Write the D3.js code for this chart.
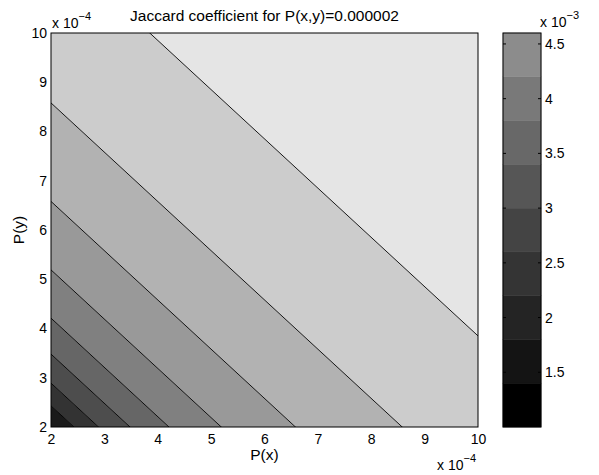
<!DOCTYPE html>
<html>
<head>
<meta charset="utf-8">
<script src="https://cdn.jsdelivr.net/npm/d3@7"></script>
<style>
  html, body { margin: 0; padding: 0; background: #fff; }
  svg text { font-family: "Liberation Sans", Arial, Helvetica, sans-serif; fill: #000; }
</style>
</head>
<body>
<svg id="chart" width="599" height="475"></svg>
<script>
// Axis range for P(x) and P(y), in units of 1e-4
const axisRange = [2, 10];
const xTicks = [2, 3, 4, 5, 6, 7, 8, 9, 10];
const yTicks = [2, 3, 4, 5, 6, 7, 8, 9, 10];
const axisExponent = "-4";

// Contour lines of the Jaccard coefficient: each one is a line of constant
// P(x)+P(y) (units of 1e-4), listed from the lower-left corner outward
const contourSums = [4.43, 4.89, 5.48, 6.21, 7.19, 8.58, 10.58, 13.85];

// Grey fill for each band between contours (lower-left corner band first)
const bandGreys = [26, 51, 77, 102, 128, 153, 178, 204, 229];

// Colour bar: band edges (units of 1e-3), greys, tick labels
const barEdges = [1.0, 1.4, 1.8, 2.2, 2.6, 3.0, 3.4, 3.8, 4.2, 4.6];
const barGreys = [0, 20, 36, 52, 68, 86, 104, 121, 140];
const barTicks = [1.5, 2, 2.5, 3, 3.5, 4, 4.5];
const barExponent = "-3";

const titleText = "Jaccard coefficient for P(x,y)=0.000002";
const xLabel = "P(x)";
const yLabel = "P(y)";

const svg = d3.select("#chart");
const plot = { left: 51, right: 478, top: 33, bottom: 427 };
const bar = { left: 503, right: 541, top: 33, bottom: 427 };
const tickFont = 14;
const supFont = 11;
const labelFont = 15.5;

const x = d3.scaleLinear().domain(axisRange).range([plot.left, plot.right]);
const y = d3.scaleLinear().domain(axisRange).range([plot.bottom, plot.top]);
const grey = v => d3.rgb(v, v, v).toString();

svg.append("defs").append("clipPath").attr("id", "plotClip")
  .append("rect")
  .attr("x", plot.left).attr("y", plot.top)
  .attr("width", plot.right - plot.left).attr("height", plot.bottom - plot.top);

const area = svg.append("g").attr("clip-path", "url(#plotClip)");

// Band limits: corner sums of the plotted square bracket the contour sums
const sumEdges = [axisRange[0] * 2, ...contourSums, axisRange[1] * 2 + 1];
const ext = [axisRange[0] - 20, axisRange[1] + 20];
const stripPoint = (px, s) => [x(px), y(s - px)];

area.selectAll("polygon.band")
  .data(bandGreys)
  .join("polygon")
  .attr("class", "band")
  .attr("points", (g, i) => {
    const lo = i === 0 ? -100 : sumEdges[i];
    const hi = sumEdges[i + 1];
    return [stripPoint(ext[0], lo), stripPoint(ext[1], lo),
            stripPoint(ext[1], hi), stripPoint(ext[0], hi)]
      .map(p => p.join(",")).join(" ");
  })
  .attr("fill", g => grey(g))
  .attr("stroke", g => grey(g))
  .attr("stroke-width", 0.5);

area.selectAll("line.contour")
  .data(contourSums)
  .join("line")
  .attr("class", "contour")
  .attr("x1", s => x(ext[0])).attr("y1", s => y(s - ext[0]))
  .attr("x2", s => x(ext[1])).attr("y2", s => y(s - ext[1]))
  .attr("stroke", "#000")
  .attr("stroke-width", 0.9);

svg.append("rect")
  .attr("x", plot.left).attr("y", plot.top)
  .attr("width", plot.right - plot.left).attr("height", plot.bottom - plot.top)
  .attr("fill", "none").attr("stroke", "#000").attr("stroke-width", 1);

// Axes (labels only; the frame is drawn above)
const xAxis = svg.append("g")
  .attr("transform", `translate(0,${plot.bottom})`)
  .call(d3.axisBottom(x).tickValues(xTicks).tickSize(0).tickPadding(7).tickFormat(d3.format("d")));
const yAxis = svg.append("g")
  .attr("transform", `translate(${plot.left},0)`)
  .call(d3.axisLeft(y).tickValues(yTicks).tickSize(0).tickPadding(4).tickFormat(d3.format("d")));
[xAxis, yAxis].forEach(a => {
  a.select(".domain").remove();
  a.attr("font-family", null);
  a.selectAll("text").attr("font-size", tickFont);
});

// Exponent labels
function exponentLabel(tx, ty, exp) {
  const t = svg.append("text").attr("x", tx).attr("y", ty).attr("font-size", tickFont);
  t.append("tspan").text("x 10");
  t.append("tspan").attr("dy", -8).attr("font-size", supFont).text(exp.replace("-", "\u2212"));
}
exponentLabel(plot.left + 1, 28, axisExponent);
exponentLabel(437, 470, axisExponent);
exponentLabel(bar.right - 1, 27, barExponent);

// Axis titles and chart title
svg.append("text")
  .attr("x", (plot.left + plot.right) / 2).attr("y", 460)
  .attr("text-anchor", "middle").attr("font-size", labelFont).text(xLabel);
svg.append("text")
  .attr("transform", `translate(24,${(plot.top + plot.bottom) / 2}) rotate(-90)`)
  .attr("text-anchor", "middle").attr("font-size", labelFont).text(yLabel);
svg.append("text")
  .attr("x", (plot.left + plot.right) / 2).attr("y", 21)
  .attr("text-anchor", "middle").attr("font-size", labelFont).text(titleText);

// Colour bar
const cb = d3.scaleLinear()
  .domain([barEdges[0], barEdges[barEdges.length - 1]])
  .range([bar.bottom, bar.top]);

svg.selectAll("rect.cbBand")
  .data(barGreys)
  .join("rect")
  .attr("class", "cbBand")
  .attr("x", bar.left)
  .attr("width", bar.right - bar.left)
  .attr("y", (g, i) => cb(barEdges[i + 1]))
  .attr("height", (g, i) => cb(barEdges[i]) - cb(barEdges[i + 1]))
  .attr("fill", g => grey(g))
  .attr("stroke", g => grey(g))
  .attr("stroke-width", 0.5);

svg.append("rect")
  .attr("x", bar.left).attr("y", bar.top)
  .attr("width", bar.right - bar.left).attr("height", bar.bottom - bar.top)
  .attr("fill", "none").attr("stroke", "#000").attr("stroke-width", 1);

const cbAxis = svg.append("g")
  .attr("transform", `translate(${bar.right},0)`)
  .call(d3.axisRight(cb).tickValues(barTicks).tickSize(0).tickPadding(4).tickFormat(d => String(d)));
cbAxis.select(".domain").remove();
cbAxis.attr("font-family", null);
cbAxis.selectAll("text").attr("font-size", tickFont);

// Inner tick marks on both sides of the colour bar
const tickLen = 3;
svg.selectAll("line.cbTickL")
  .data(barTicks).join("line").attr("class", "cbTickL")
  .attr("x1", bar.left).attr("x2", bar.left + tickLen)
  .attr("y1", d => cb(d)).attr("y2", d => cb(d))
  .attr("stroke", "#000").attr("stroke-width", 1);
svg.selectAll("line.cbTickR")
  .data(barTicks).join("line").attr("class", "cbTickR")
  .attr("x1", bar.right - tickLen).attr("x2", bar.right)
  .attr("y1", d => cb(d)).attr("y2", d => cb(d))
  .attr("stroke", "#000").attr("stroke-width", 1);
</script>
</body>
</html>
